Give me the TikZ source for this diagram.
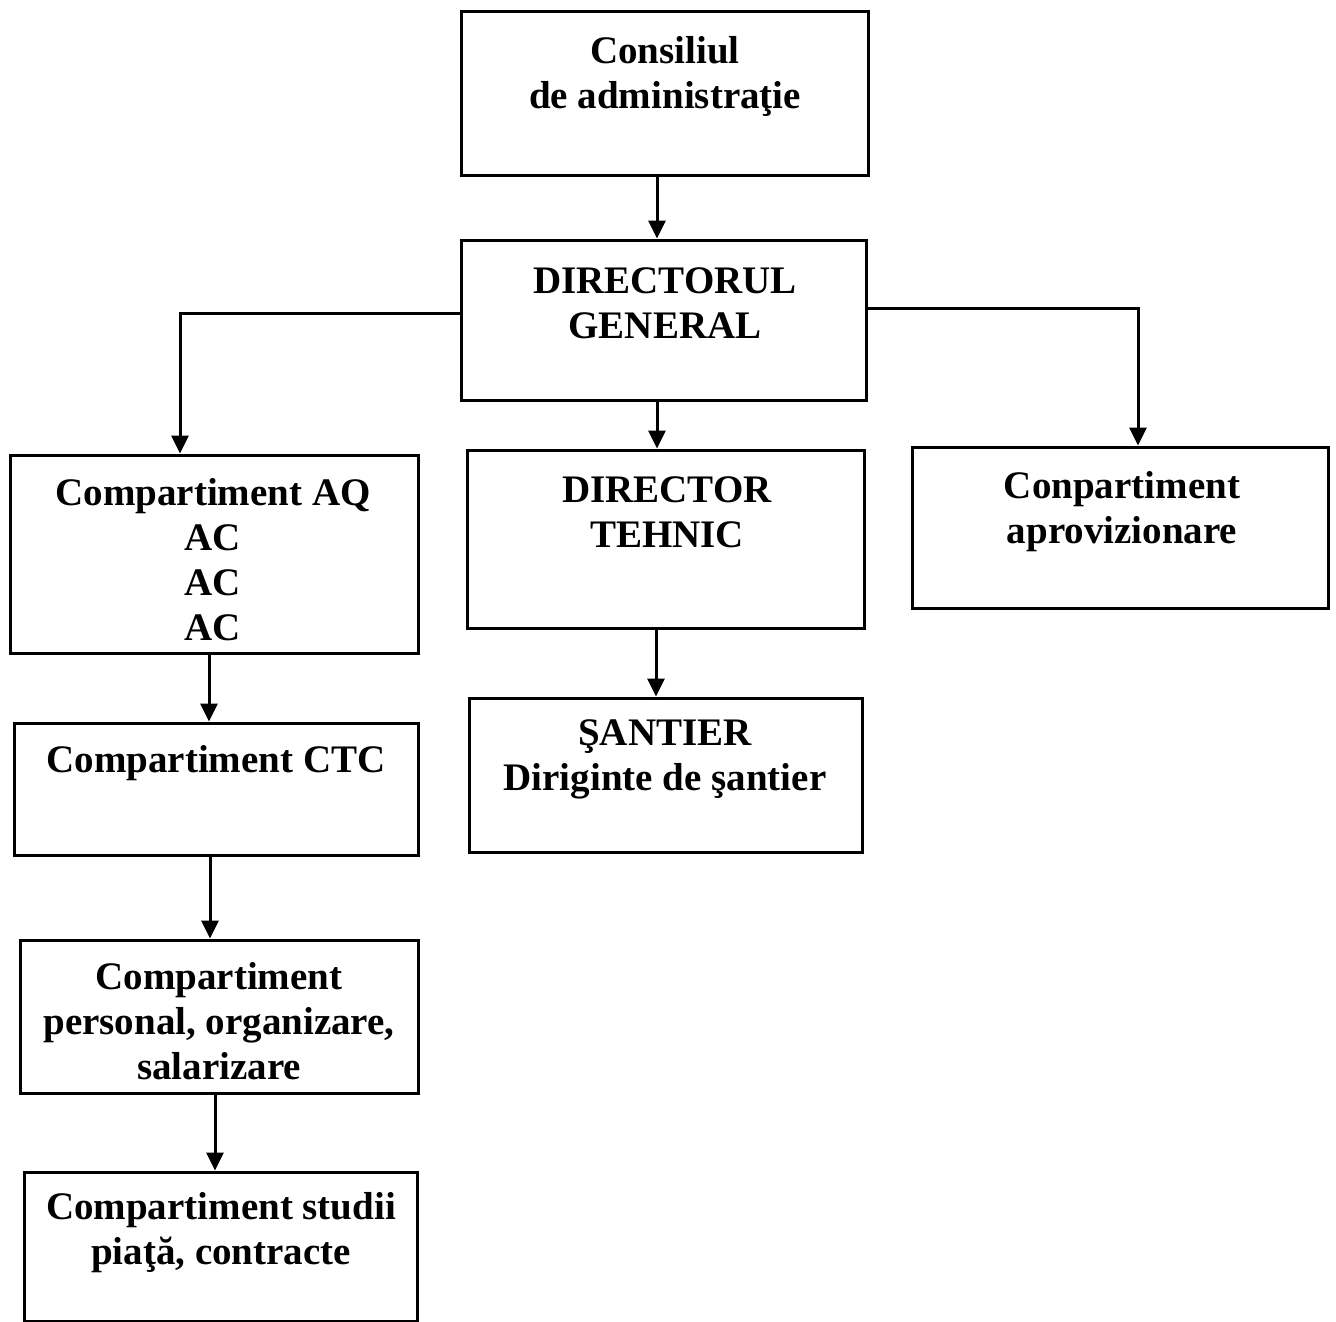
\documentclass[tikz,border=0pt]{standalone}
\usepackage{fontspec}
\setmainfont{Liberation Serif}
\usetikzlibrary{arrows.meta,calc}
\tikzset{
	box/.style={draw, line width=3pt, inner sep=0pt},
	txt/.style={align=center, inner sep=0pt, font=\bfseries\fontsize{39}{45}\selectfont},
	arr/.style={line width=3pt, -{Triangle[length=18pt,width=17pt]}}
}

\begin{document}
\begin{tikzpicture}[x=1pt, y=-1pt]
			%%%%% START %%%%%
			\useasboundingbox (0, 0) rectangle (1336, 1322);
			
			\node[box, minimum width=407, minimum height=163] (cons) at (664.5, 93.5) {};
			\node[txt] (cons-t) at (665, 76) {Consiliul\\de administraţie};
			
			\node[box, minimum width=405, minimum height=160] (dg) at (663.5, 320) {};
			\node[txt] (dg-t) at (665, 303) {DIRECTORUL\\GENERAL};
			
			\node[box, minimum width=408, minimum height=198] (aq) at (214, 554) {};
			\node[txt] (aq-t) at (213, 560) {Compartiment AQ\\AC\\AC\\AC};
			
			\node[box, minimum width=397, minimum height=178] (dt) at (665.5, 539) {};
			\node[txt] (dt-t) at (667, 512) {DIRECTOR\\TEHNIC};
			
			\node[box, minimum width=416, minimum height=161] (aprov) at (1120, 527.5) {};
			\node[txt] (aprov-t) at (1122, 512) {Conpartiment\\aprovizionare};
			
			\node[box, minimum width=404, minimum height=132] (ctc) at (216, 789) {};
			\node[txt] (ctc-t) at (216, 763) {Compartiment CTC};
			
			\node[box, minimum width=393, minimum height=154] (sant) at (665.5, 775) {};
			\node[txt] (sant-t) at (665, 759) {ŞANTIER\\Diriginte de şantier};
			
			\node[box, minimum width=398, minimum height=153] (pers) at (219, 1016.5) {};
			\node[txt] (pers-t) at (219, 1021) {Compartiment\\personal, organizare,\\salarizare};
			
			\node[box, minimum width=393, minimum height=149] (stud) at (220.5, 1246.5) {};
			\node[txt] (stud-t) at (221, 1233) {Compartiment studii\\piaţă, contracte};
			
			% arrows
			\draw[arr] ([xshift=-7.5pt]cons.south) -- ([xshift=-7.5pt]cons.south |- dg.north);
			\draw[arr] ([yshift=7pt]dg.west) -| ([xshift=-34pt]aq.north);
			\draw[arr] ([yshift=12pt]dg.east) -| ([xshift=18pt]aprov.north);
			\draw[arr] ([xshift=-6.5pt]dg.south) -- ([xshift=-6.5pt]dg.south |- dt.north);
			\draw[arr] ([xshift=-5pt]aq.south) -- ([xshift=-5pt]aq.south |- ctc.north);
			\draw[arr] ([xshift=-9.5pt]dt.south) -- ([xshift=-9.5pt]dt.south |- sant.north);
			\draw[arr] ([xshift=-6pt]ctc.south) -- ([xshift=-6pt]ctc.south |- pers.north);
			\draw[arr] ([xshift=-4pt]pers.south) -- ([xshift=-4pt]pers.south |- stud.north);
			
			%%%%% END %%%%%
		\end{tikzpicture}
\end{document}
